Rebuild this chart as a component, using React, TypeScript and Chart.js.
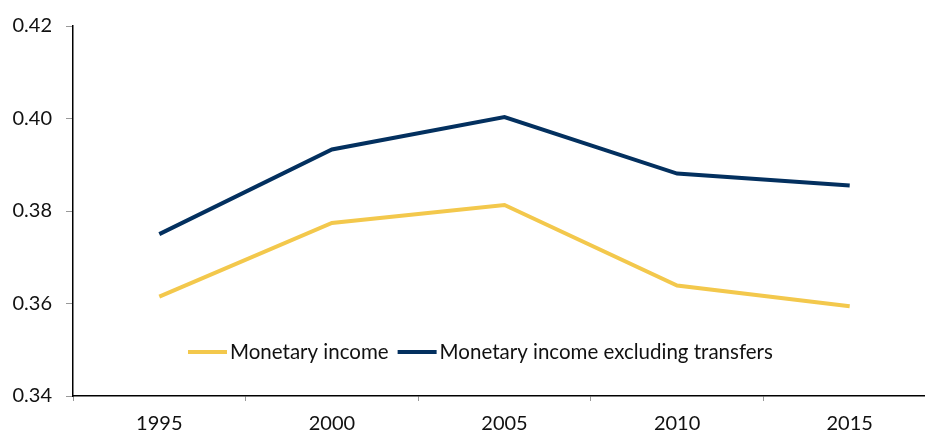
import React, { useEffect, useRef } from "react";
import { Chart, registerables } from "chart.js";

Chart.register(...registerables);

const years = ["1995", "2000", "2005", "2010", "2015"];
const monetaryIncome = [0.3615, 0.3774, 0.3813, 0.3639, 0.3594];
const excludingTransfers = [0.375, 0.3933, 0.4003, 0.3881, 0.3855];
const seriesLabels = ["Monetary income", "Monetary income excluding transfers"];
const yMin = 0.34;
const yMax = 0.42;
const yStep = 0.02;

const FONT = "Lato, 'Open Sans', sans-serif";

const legendPlugin = {
  id: "insideLegend",
  afterDraw(chart: any) {
    const ctx = chart.ctx;
    ctx.save();
    ctx.font = `20.5px ${FONT}`;
    ctx.textBaseline = "middle";
    let x = 188;
    const y = 352;
    chart.data.datasets.forEach((ds: any) => {
      ctx.strokeStyle = ds.borderColor;
      ctx.lineWidth = 4;
      ctx.beginPath();
      ctx.moveTo(x, y);
      ctx.lineTo(x + 39, y);
      ctx.stroke();
      ctx.fillStyle = "#111";
      ctx.fillText(ds.label, x + 42, y);
      x += 42 + ctx.measureText(ds.label).width + 9;
    });
    ctx.restore();
  },
};

export default function App() {
  const ref = useRef<HTMLCanvasElement>(null);
  useEffect(() => {
    document.body.style.margin = "0";
    const chart = new Chart(ref.current!, {
      type: "line",
      data: {
        labels: years,
        datasets: [
          {
            label: seriesLabels[0],
            data: monetaryIncome,
            borderColor: "#F3C84C",
            borderWidth: 4,
            pointRadius: 0,
            tension: 0,
          },
          {
            label: seriesLabels[1],
            data: excludingTransfers,
            borderColor: "#03305F",
            borderWidth: 4,
            pointRadius: 0,
            tension: 0,
          },
        ],
      },
      options: {
        responsive: false,
        animation: false,
        layout: { padding: { top: 22, right: 0, left: 0, bottom: 0 } },
        plugins: { legend: { display: false }, tooltip: { enabled: false } },
        scales: {
          x: {
            offset: true,
            grid: {
              offset: true,
              drawOnChartArea: false,
              drawTicks: true,
              tickLength: 5,
              tickColor: "#999",
            },
            border: { color: "#000", width: 1.5 },
            ticks: { color: "#111", font: { family: FONT, size: 20 }, padding: 11, maxRotation: 0 },
            afterFit: (s: any) => {
              s.height = 37;
            },
          },
          y: {
            min: yMin,
            max: yMax,
            grid: {
              drawOnChartArea: false,
              drawTicks: true,
              tickLength: 7,
              tickColor: "#999",
            },
            border: { color: "#000", width: 1.5 },
            ticks: {
              stepSize: yStep,
              color: "#111",
              font: { family: FONT, size: 20 },
              padding: 14,
              callback: (v: any) => Number(v).toFixed(2),
            },
            afterFit: (s: any) => {
              s.width = 73;
            },
          },
        },
      },
      plugins: [legendPlugin],
    });
    return () => chart.destroy();
  }, []);
  return (
    <div style={{ position: "absolute", left: 0, top: 0, width: 925, height: 433, overflow: "hidden", background: "#fff" }}>
      <canvas ref={ref} width={936} height={433} style={{ width: 936, height: 433, display: "block" }} />
    </div>
  );
}
